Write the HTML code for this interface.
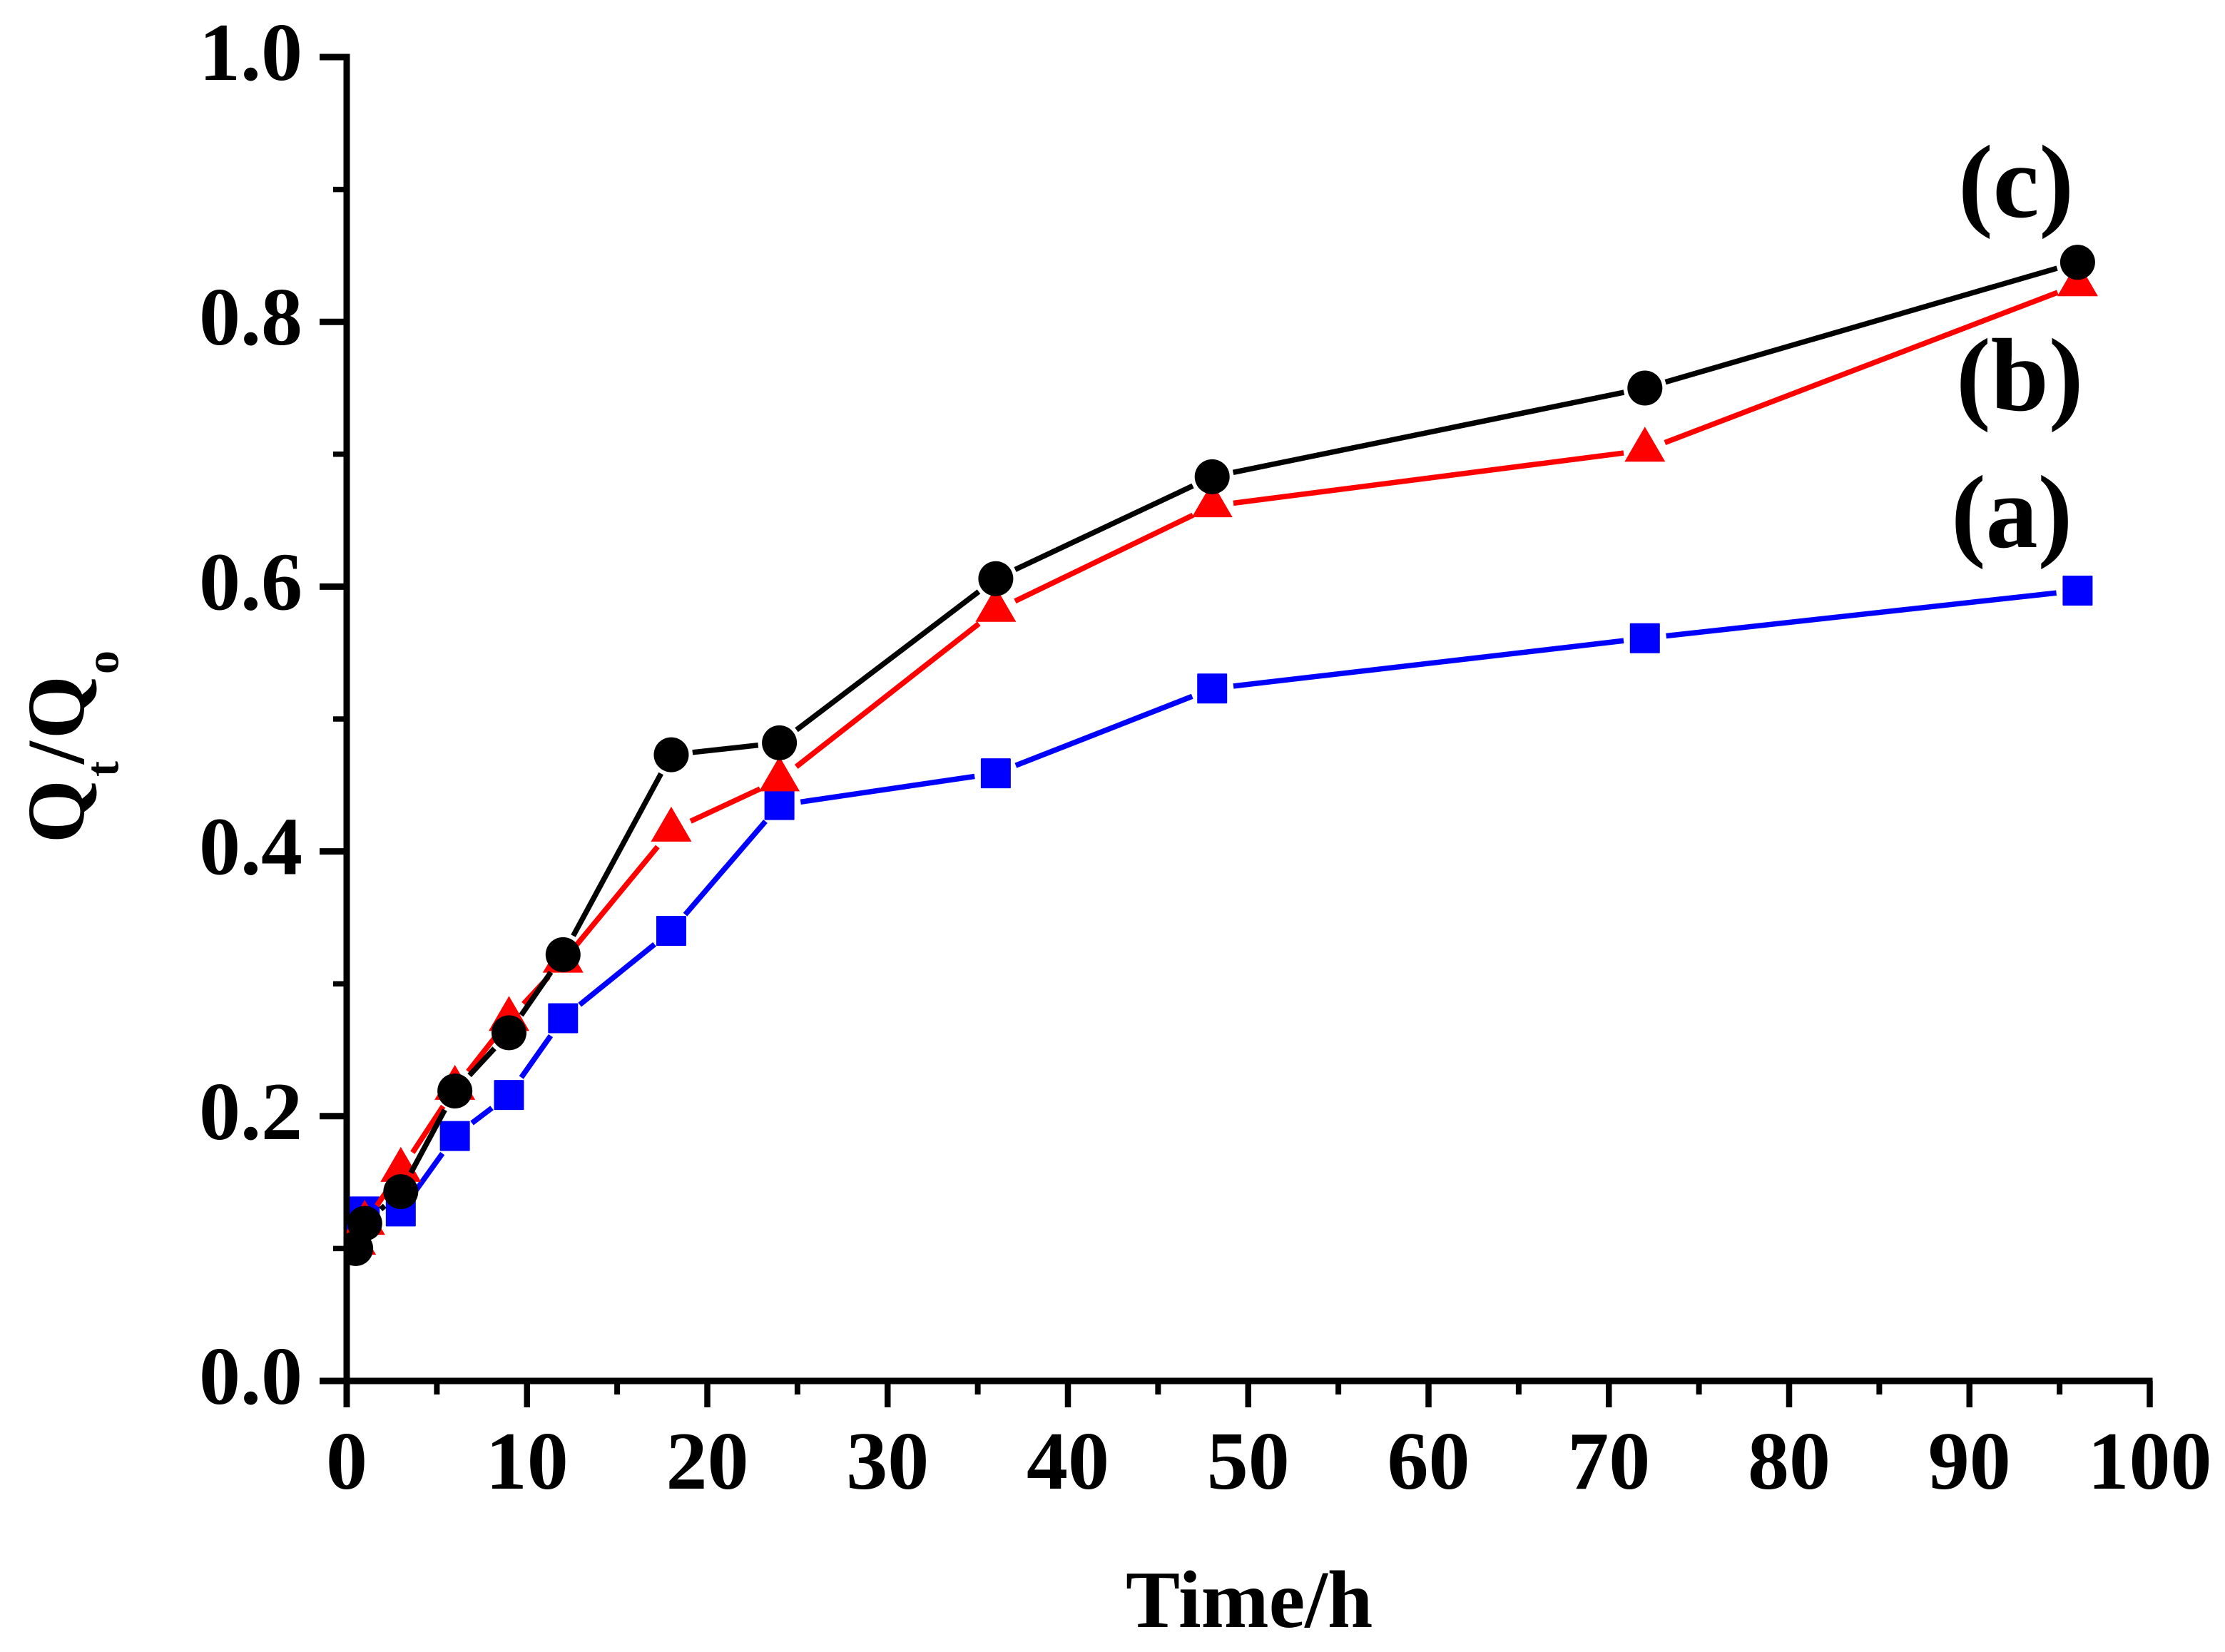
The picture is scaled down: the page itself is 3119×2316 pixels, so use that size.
<!DOCTYPE html>
<html lang="en">
<head>
<meta charset="utf-8">
<title>Qt/Qo versus time</title>
<style>
html,body{margin:0;padding:0;background:#fff;}
svg{display:block;}
text{font-family:"Liberation Serif",serif;font-weight:bold;fill:#000;}
</style>
</head>
<body>
<svg id="chart" xmlns="http://www.w3.org/2000/svg" width="3119" height="2316" viewBox="0 0 3119 2316">
  <rect x="0" y="0" width="3119" height="2316" fill="#fff"/>
  <defs>
    <clipPath id="plot-clip"><rect x="486" y="0" width="2633" height="2316"/></clipPath>
  </defs>
  <g id="axes"></g>
  <g id="series" clip-path="url(#plot-clip)"></g>
  <text x="1578" y="2281" font-size="114">Time/h</text>
  <text transform="translate(117,1182) rotate(-90)" font-size="114"><tspan x="0" y="0">Q</tspan><tspan x="93" y="48.5" font-size="66">t</tspan><tspan x="111" y="0">/</tspan><tspan x="146" y="0">Q</tspan><tspan x="237" y="48.5" font-size="66">o</tspan></text>
  <text x="2745" y="304" font-size="146">(c)</text>
  <text x="2742" y="575" font-size="146">(b)</text>
  <text x="2735" y="767" font-size="146">(a)</text>
</svg>
<script>
const times = [0.5, 1, 3, 6, 9, 12, 18, 24, 36, 48, 72, 96];
const seriesA = [0.107, 0.128, 0.128, 0.185, 0.216, 0.274, 0.340, 0.435, 0.459, 0.523, 0.561, 0.597];
const seriesB = [0.104, 0.119, 0.159, 0.221, 0.273, 0.317, 0.416, 0.454, 0.582, 0.661, 0.703, 0.828];
const seriesC = [0.100, 0.119, 0.143, 0.219, 0.263, 0.322, 0.473, 0.482, 0.606, 0.683, 0.750, 0.845];
const xTickLabels = ["0", "10", "20", "30", "40", "50", "60", "70", "80", "90", "100"];
const yTickLabels = ["0.0", "0.2", "0.4", "0.6", "0.8", "1.0"];
const xMinorTicks = [5, 15, 25, 35, 45, 55, 65, 75, 85, 95];
const yMinorTicks = [0.1, 0.3, 0.5, 0.7, 0.9];

const SVG_NS = 'http://www.w3.org/2000/svg';
const X0 = 486, X1 = 3013.5, Y0 = 1936, Y1 = 80;
const sx = v => X0 + (v / 100) * (X1 - X0);
const sy = v => Y0 - v * (Y0 - Y1);
const GAP = 30;

function mk(tag, attrs, parent) {
  const n = document.createElementNS(SVG_NS, tag);
  for (const k in attrs) n.setAttribute(k, attrs[k]);
  parent.appendChild(n);
  return n;
}

const axes = document.getElementById('axes');
const seriesLayer = document.getElementById('series');

const xAxisLine = mk('line', {x1: 448, x2: X1 + 4, y1: Y0, y2: Y0, stroke: '#000', 'stroke-width': 9}, axes);



const yAxisLine = mk('line', {x1: X0, x2: X0, y1: Y1 - 4.5, y2: 1973, stroke: '#000', 'stroke-width': 9}, axes);



xTickLabels.forEach(label => {
  const v = Number(label);
  const tick = mk('line', {x1: sx(v), x2: sx(v), y1: Y0, y2: 1973, stroke: '#000', 'stroke-width': 8.5}, axes);
  
  
  const t = mk('text', {x: sx(v), y: 2087, 'text-anchor': 'middle', 'font-size': 116}, axes);
  
  
  t.textContent = label;
});

xMinorTicks.forEach(v => {
  const tick = mk('line', {x1: sx(v), x2: sx(v), y1: Y0, y2: 1955, stroke: '#000', 'stroke-width': 8}, axes);
  
  
});

yTickLabels.forEach(label => {
  const v = Number(label);
  const tick = mk('line', {x1: 448, x2: X0, y1: sy(v), y2: sy(v), stroke: '#000', 'stroke-width': 9}, axes);
  
  
  const t = mk('text', {x: 424, y: sy(v) + 32, 'text-anchor': 'end', 'font-size': 116}, axes);
  
  
  t.textContent = label;
});

yMinorTicks.forEach(v => {
  const tick = mk('line', {x1: 467, x2: X0, y1: sy(v), y2: sy(v), stroke: '#000', 'stroke-width': 7.5}, axes);
  
  
});

function drawSegments(values, color, group) {
  for (let i = 0; i < values.length - 1; i++) {
    const ax = sx(times[i]), ay = sy(values[i]);
    const bx = sx(times[i + 1]), by = sy(values[i + 1]);
    const len = Math.hypot(bx - ax, by - ay);
    if (len <= 2 * GAP) continue;
    const ux = (bx - ax) / len, uy = (by - ay) / len;
    const seg = mk('line', {
      x1: ax + ux * GAP, y1: ay + uy * GAP,
      x2: bx - ux * GAP, y2: by - uy * GAP,
      stroke: color, 'stroke-width': 7.5
    }, group);
    
    
  }
}

const groupA = mk('g', {}, seriesLayer);


drawSegments(seriesA, '#0000ff', groupA);
seriesA.forEach((v, i) => {
  const m = mk('rect', {x: sx(times[i]) - 21, y: sy(v) - 21, width: 42, height: 42, rx: 1, fill: '#0000ff'}, groupA);
  
  
});

const groupB = mk('g', {}, seriesLayer);


drawSegments(seriesB, '#ff0000', groupB);
seriesB.forEach((v, i) => {
  const cx = sx(times[i]), cy = sy(v);
  const m = mk('polygon', {points: `${cx},${cy - 33} ${cx + 28.5},${cy + 16} ${cx - 28.5},${cy + 16}`, fill: '#ff0000'}, groupB);
  
  
});

const groupC = mk('g', {}, seriesLayer);


drawSegments(seriesC, '#000000', groupC);
seriesC.forEach((v, i) => {
  const m = mk('circle', {cx: sx(times[i]), cy: sy(v), r: 24.5, fill: '#000000'}, groupC);
  
  
});
</script>
</body>
</html>
